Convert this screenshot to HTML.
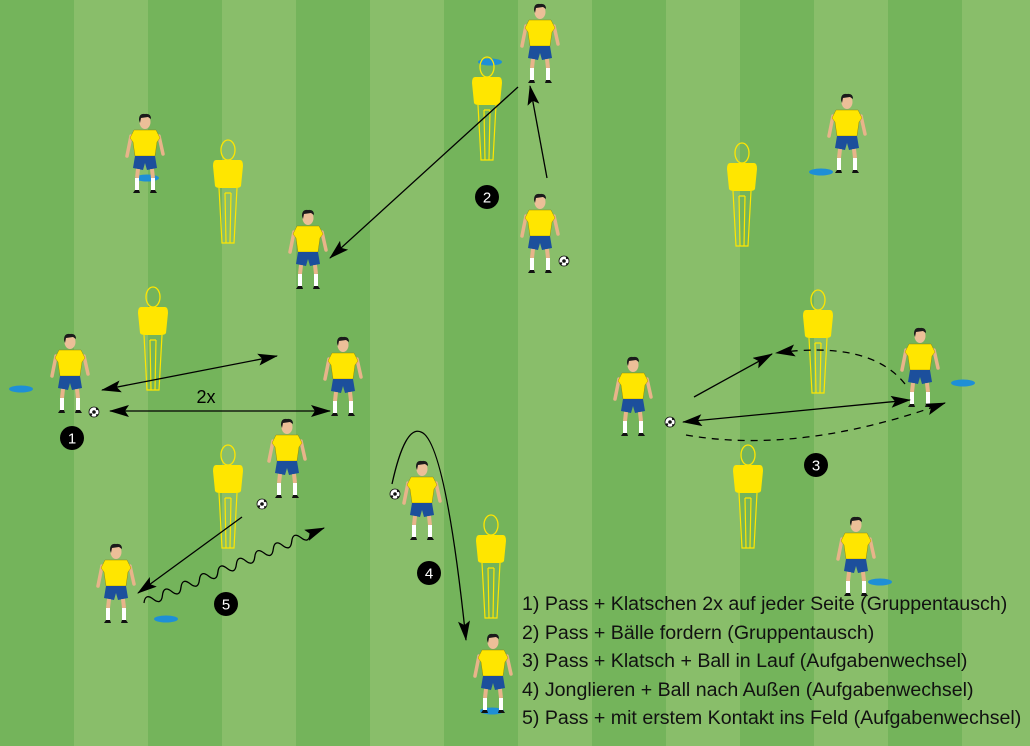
<!DOCTYPE html>
<html><head><meta charset="utf-8"><style>
html,body{margin:0;padding:0}
body{width:1030px;height:746px;overflow:hidden;position:relative;background:repeating-linear-gradient(90deg,#74b45b 0px,#74b45b 74px,#89be6a 74px,#89be6a 148px);font-family:"Liberation Sans",sans-serif}
svg{position:absolute;left:0;top:0}
.legend{position:absolute;left:522px;top:590px;font-size:19.6px;line-height:28.6px;color:#111;white-space:nowrap}
</style></head><body>
<svg width="1030" height="746" viewBox="0 0 1030 746">
<defs>
<marker id="ah" markerUnits="userSpaceOnUse" markerWidth="22" markerHeight="14" refX="19" refY="6" orient="auto-start-reverse"><path d="M0,0 L20,6 L0,12 L4,6z" fill="#000"/></marker>
<g id="man">
<ellipse cx="0" cy="10" rx="7" ry="10" fill="none" stroke="#ffe600" stroke-width="1.3"/>
<path d="M-12,20 Q-15,20 -15,26 L-13,46 Q-12,48 -8,48 L8,48 Q12,48 13,46 L15,26 Q15,20 12,20z" fill="#ffe600"/>
<path d="M-9,48 L-6,103 L6,103 L9,48 M-3,53 L-2,103 M3,53 L2,103 M-3,53 L3,53" fill="none" stroke="#ffe600" stroke-width="1.2"/>
</g>
<g id="pl">
<path d="M-14,20 L-18,40 M14,20 L18,38" stroke="#e8b48a" stroke-width="3.5" stroke-linecap="round"/>
<path d="M-11,14 L11,14 L15,22 L12,26 L10,40 L-10,40 L-12,26 L-15,22z" fill="#ffe600" stroke="#8a7a00" stroke-width="0.4"/>
<path d="M-10,40 L10,40 L12,52 L2,54 L0,47 L-2,54 L-12,52z" fill="#1c4f9c"/>
<path d="M-7,53 L-8,62 M7,53 L8,62" stroke="#e8b48a" stroke-width="4"/>
<path d="M-8,62 L-8,74 M8,62 L8,74" stroke="#fff" stroke-width="4"/>
<path d="M-12,77 L-5,77 L-6,74 L-10,74z M12,77 L5,77 L6,74 L10,74z" fill="#111"/>
<ellipse cx="0" cy="6" rx="5.5" ry="7" fill="#ecbf98"/>
<path d="M-6,4 Q-6,-3 0,-2 Q6,-3 6,3 L3,1 L-4,2 L-5,7z" fill="#1b1b1b"/>
</g>
<g id="ball"><circle r="5" fill="#fff" stroke="#111" stroke-width="0.8"/><circle r="1.8" fill="#111"/><circle cx="3" cy="-3" r="1.2" fill="#111"/><circle cx="-3" cy="2.5" r="1.2" fill="#111"/><circle cx="3" cy="3" r="1" fill="#111"/></g>
<ellipse id="cone" rx="12" ry="3.5" fill="#1e8fd6"/>
</defs>

<use href="#cone" x="21" y="389"/><use href="#cone" x="147" y="178"/><use href="#cone" x="490" y="62"/><use href="#cone" x="821" y="172"/><use href="#cone" x="963" y="383"/><use href="#cone" x="880" y="582"/><use href="#cone" x="166" y="619"/><use href="#cone" x="492" y="711"/>

<use href="#man" x="487" y="57"/><use href="#man" x="228" y="140"/><use href="#man" x="153" y="287"/><use href="#man" x="742" y="143"/><use href="#man" x="818" y="290"/><use href="#man" x="228" y="445"/><use href="#man" x="748" y="445"/><use href="#man" x="491" y="515"/>

<use href="#pl" x="540" y="6"/><use href="#pl" x="145" y="116"/><use href="#pl" x="308" y="212"/><use href="#pl" x="540" y="196"/><use href="#pl" x="847" y="96"/><use href="#pl" x="70" y="336"/><use href="#pl" x="343" y="339"/><use href="#pl" x="633" y="359"/><use href="#pl" x="920" y="330"/><use href="#pl" x="287" y="421"/><use href="#pl" x="422" y="463"/><use href="#pl" x="116" y="546"/><use href="#pl" x="856" y="519"/><use href="#pl" x="493" y="636"/>

<use href="#ball" x="94" y="412"/><use href="#ball" x="564" y="261"/><use href="#ball" x="670" y="422"/><use href="#ball" x="262" y="504"/><use href="#ball" x="395" y="494"/>

<g fill="none" stroke="#000" stroke-width="1.3">
<line x1="518" y1="87" x2="330" y2="258" marker-end="url(#ah)"/>
<line x1="547" y1="178" x2="530" y2="86" marker-end="url(#ah)"/>
<line x1="102" y1="390" x2="277" y2="356" marker-start="url(#ah)" marker-end="url(#ah)"/>
<line x1="110" y1="411" x2="330" y2="411" marker-start="url(#ah)" marker-end="url(#ah)"/>
<line x1="694" y1="397" x2="772" y2="354" marker-end="url(#ah)"/>
<line x1="683" y1="422" x2="910" y2="400" marker-start="url(#ah)" marker-end="url(#ah)"/>
<path d="M905,384 Q870,340 776,353" stroke-dasharray="7,6" marker-end="url(#ah)"/>
<path d="M686,435 Q800,455 945,403" stroke-dasharray="7,6" marker-end="url(#ah)"/>
<path d="M392,484 Q405,425 421,432 Q445,440 466,640" marker-end="url(#ah)"/>
<line x1="242" y1="517" x2="138" y2="593" marker-end="url(#ah)"/>
<g transform="translate(144,603) rotate(-22.6)"><path d="M0,0 q5,-9 10,0 t10,0 t10,0 t10,0 t10,0 t10,0 t10,0 t10,0 t10,0 t10,0 t10,0 t10,0 t10,0 t10,0 t10,0 t10,0 t10,0 t10,0 l15,0" marker-end="url(#ah)"/></g>
</g>

<text x="206" y="403" font-size="18" text-anchor="middle" font-family="Liberation Sans, sans-serif">2x</text>

<g font-size="15" fill="#fff" text-anchor="middle" font-family="Liberation Sans, sans-serif">
<circle cx="72" cy="438" r="12" fill="#000"/><text x="72" y="443.5">1</text>
<circle cx="487" cy="197" r="12" fill="#000"/><text x="487" y="202.5">2</text>
<circle cx="816" cy="465" r="12" fill="#000"/><text x="816" y="470.5">3</text>
<circle cx="429" cy="573" r="12" fill="#000"/><text x="429" y="578.5">4</text>
<circle cx="226" cy="604" r="12" fill="#000"/><text x="226" y="609.5">5</text>
</g>
</svg>
<div class="legend">1) Pass + Klatschen 2x auf jeder Seite (Gruppentausch)<br>2) Pass + Bälle fordern (Gruppentausch)<br>3) Pass + Klatsch + Ball in Lauf (Aufgabenwechsel)<br>4) Jonglieren + Ball nach Außen (Aufgabenwechsel)<br>5) Pass + mit erstem Kontakt ins Feld (Aufgabenwechsel)</div>
</body></html>
